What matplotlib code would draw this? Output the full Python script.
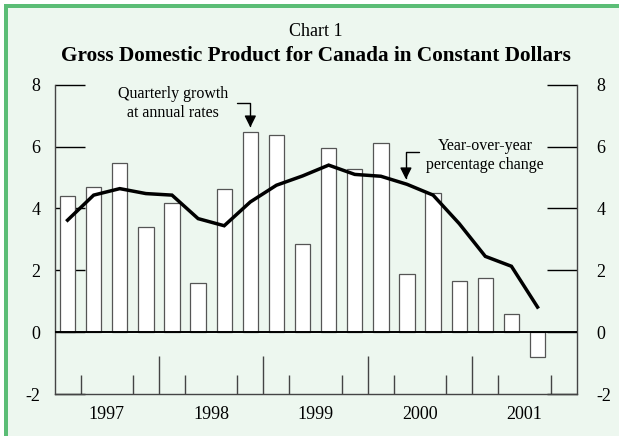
import matplotlib
matplotlib.use("Agg")
import matplotlib.pyplot as plt
from matplotlib.patches import Rectangle
import numpy as np

plt.rcParams['font.family'] = ['Liberation Serif', 'DejaVu Serif']

# Quarterly data 1997Q1 .. 2001Q3
quarterly_growth = [4.40, 4.70, 5.46, 3.39, 4.19, 1.60, 4.62, 6.46, 6.36, 2.84,
                    5.96, 5.28, 6.13, 1.88, 4.50, 1.64, 1.75, 0.59, -0.81]
yoy_change = [3.62, 4.43, 4.64, 4.48, 4.43, 3.67, 3.44, 4.21, 4.75, 5.05,
              5.40, 5.10, 5.04, 4.78, 4.43, 3.51, 2.45, 2.13, 0.81]
years = ['1997', '1998', '1999', '2000', '2001']
y_ticks = [-2, 0, 2, 4, 6, 8]

BG = '#edf7ef'
BORDER = '#5bbd76'
AXC = '#444444'

fig = plt.figure(figsize=(6.19, 4.36), dpi=100)
fig.patch.set_facecolor('white')
# green frame background
fig.patches.append(Rectangle((4/619, 0), 1, 1 - 4/436, transform=fig.transFigure,
                             facecolor=BG, edgecolor='none', zorder=-3))
fig.patches.append(Rectangle((4/619, 0), 4/619, 1 - 4/436, transform=fig.transFigure,
                             facecolor=BORDER, edgecolor='none', zorder=-2))
fig.patches.append(Rectangle((4/619, 1 - 8/436), 1, 4/436, transform=fig.transFigure,
                             facecolor=BORDER, edgecolor='none', zorder=-2))

ax = fig.add_axes([54.5/619, (436-394)/436, (576.7-54.5)/619, (394-84.7)/436])
ax.set_facecolor('none')

n = len(quarterly_growth)
x = np.arange(n) + 0.5
ax.bar(x, quarterly_growth, width=0.59, color='white', edgecolor='#555555',
       linewidth=0.9, zorder=2)
ax.axhline(0, color='black', linewidth=1.4, zorder=3)
ax.plot(x, yoy_change, color='black', linewidth=2.5, zorder=4,
        solid_joinstyle='miter')

nq = 4 * len(years)
ax.set_xlim(0, nq)
ax.set_ylim(-2, 8)

for s in ['left', 'right', 'bottom']:
    ax.spines[s].set_color(AXC)
    ax.spines[s].set_linewidth(1.0)
ax.spines['top'].set_visible(False)

# y ticks both sides, inward
ax.set_yticks(y_ticks)
ax.set_yticklabels([str(v) for v in y_ticks])
ax.tick_params(axis='y', direction='in', length=21.6, width=1.0, color='black',
               left=True, right=True, labelleft=True, labelright=False,
               labelsize=13, pad=10)
axr = ax.secondary_yaxis('right')
axr.set_yticks(y_ticks)
axr.set_yticklabels([str(v) for v in y_ticks])
axr.tick_params(axis='y', direction='in', length=0, labelsize=13, pad=14)
axr.spines['right'].set_visible(False)

# x: year labels at centers, quarter ticks short, year boundary ticks long
ax.set_xticks([4 * i + 2 for i in range(len(years))])
ax.set_xticklabels(years)
ax.tick_params(axis='x', which='major', length=0, labelsize=13, pad=8.5)
ax.set_xticks([q for q in range(1, nq) if q % 4 != 0], minor=True)
ax.tick_params(axis='x', which='minor', direction='in', length=13.7, width=1.0,
               color=AXC)
axb = ax.secondary_xaxis('bottom')
axb.set_xticks([4 * i for i in range(1, len(years))])
axb.set_xticklabels([])
axb.tick_params(axis='x', direction='in', length=27.4, width=1.0, color=AXC)
axb.spines['bottom'].set_visible(False)

# titles
ax.text(0.5, 1.0 + (84.7 - 31) / 309.3, 'Chart 1', transform=ax.transAxes,
        ha='center', va='center', fontsize=13)
ax.text(0.5, 1.0 + (84.7 - 56) / 309.3,
        'Gross Domestic Product for Canada in Constant Dollars',
        transform=ax.transAxes, ha='center', va='center', fontsize=15.3,
        fontweight='bold')

# annotations
ax.text(4.54, 7.39, 'Quarterly growth\nat annual rates', ha='center', va='center',
        fontsize=11.5, linespacing=1.2)
ax.annotate('', xy=(7.5, 6.62), xytext=(7.0, 7.41),
            arrowprops=dict(arrowstyle='-|>,head_length=0.7,head_width=0.35',
                            connectionstyle='angle,angleA=0,angleB=90,rad=0',
                            color='black', lw=1.0, shrinkA=0, shrinkB=0))
ax.text(16.49, 5.71, 'Year-over-year\npercentage change', ha='center', va='center',
        fontsize=11.5, linespacing=1.2)
ax.annotate('', xy=(13.46, 4.94), xytext=(13.96, 5.82),
            arrowprops=dict(arrowstyle='-|>,head_length=0.7,head_width=0.35',
                            connectionstyle='angle,angleA=180,angleB=90,rad=0',
                            color='black', lw=1.0, shrinkA=0, shrinkB=0))

fig.savefig('out.png', dpi=100, facecolor=fig.get_facecolor())
